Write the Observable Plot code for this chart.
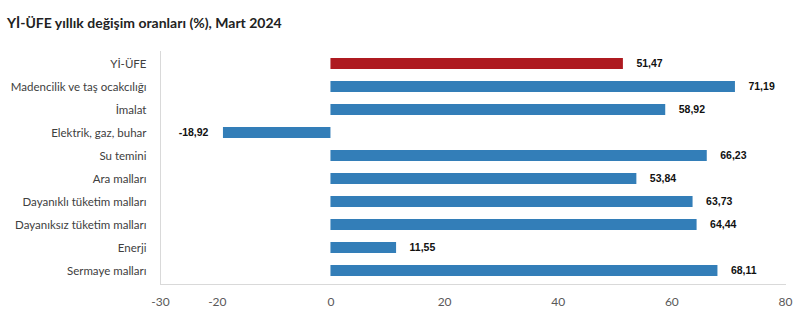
<!DOCTYPE html>
<html>
<head>
<meta charset="utf-8">
<script src="https://cdn.jsdelivr.net/npm/d3@7"></script>
<script src="https://cdn.jsdelivr.net/npm/@observablehq/plot@0.6"></script>
<style>
  body { margin: 0; background: #fff; }
  #title { font-family: Lato, "Open Sans", sans-serif; font-weight: 700; font-size: 14px; color: #222;
           height: 40px; box-sizing: border-box; padding: 13px 0 0 7px; line-height: 20px; }
  #chart svg { display: block; }
</style>
</head>
<body>
<div id="title">Yİ-ÜFE yıllık değişim oranları (%), Mart 2024</div>
<div id="chart"></div>
<script>
const categories = ["Yİ-ÜFE", "Madencilik ve taş ocakcılığı", "İmalat", "Elektrik, gaz, buhar", "Su temini",
  "Ara malları", "Dayanıklı tüketim malları", "Dayanıksız tüketim malları", "Enerji", "Sermaye malları"];
const values = [51.47, 71.19, 58.92, -18.92, 66.23, 53.84, 63.73, 64.44, 11.55, 68.11];
const xTicks = [-30, -20, 0, 20, 40, 60, 80];

const data = categories.map((c, i) => ({category: c, value: values[i], total: i === 0}));
const fmt = v => d3.format(".2f")(v).replace(".", ",").replace("\u2212", "-");
const labelFont = "'Liberation Sans', Arial, sans-serif";

const plot = Plot.plot({
  width: 811,
  height: 294,
  marginLeft: 160,
  marginRight: 26,
  marginTop: 11,
  marginBottom: 50,
  style: {fontFamily: "Lato, 'Open Sans', sans-serif", background: "#fff"},
  x: {domain: [-30, 80], ticks: xTicks, tickSize: 0, tickPadding: 13, label: null},
  y: {domain: categories, paddingInner: 0.52, paddingOuter: 0.26, tickSize: 0, tickPadding: 14, label: null},
  marks: [
    Plot.ruleX([-30], {stroke: "#d9d9d9"}),
    Plot.frame({anchor: "bottom", stroke: "#d9d9d9"}),
    Plot.barX(data, {x: "value", y: "category", fill: d => d.total ? "#ae1a20" : "#337eb8"}),
    Plot.text(data.filter(d => d.value >= 0), {x: "value", y: "category", text: d => fmt(d.value), dx: 13,
      textAnchor: "start", fontWeight: "bold", fontSize: 10.5, fill: "#111", fontFamily: labelFont}),
    Plot.text(data.filter(d => d.value < 0), {x: "value", y: "category", text: d => fmt(d.value), dx: -15,
      textAnchor: "end", fontWeight: "bold", fontSize: 10.5, fill: "#111", fontFamily: labelFont}),
    Plot.axisX({ticks: xTicks, tickFormat: d => String(d), tickSize: 0, tickPadding: 13, fontSize: 12, fill: "#595959", label: null}),
    Plot.axisY({tickSize: 0, tickPadding: 14, fontSize: 11.5, fill: "#404040", label: null})
  ]
});
document.getElementById("chart").appendChild(plot);
</script>
</body>
</html>
